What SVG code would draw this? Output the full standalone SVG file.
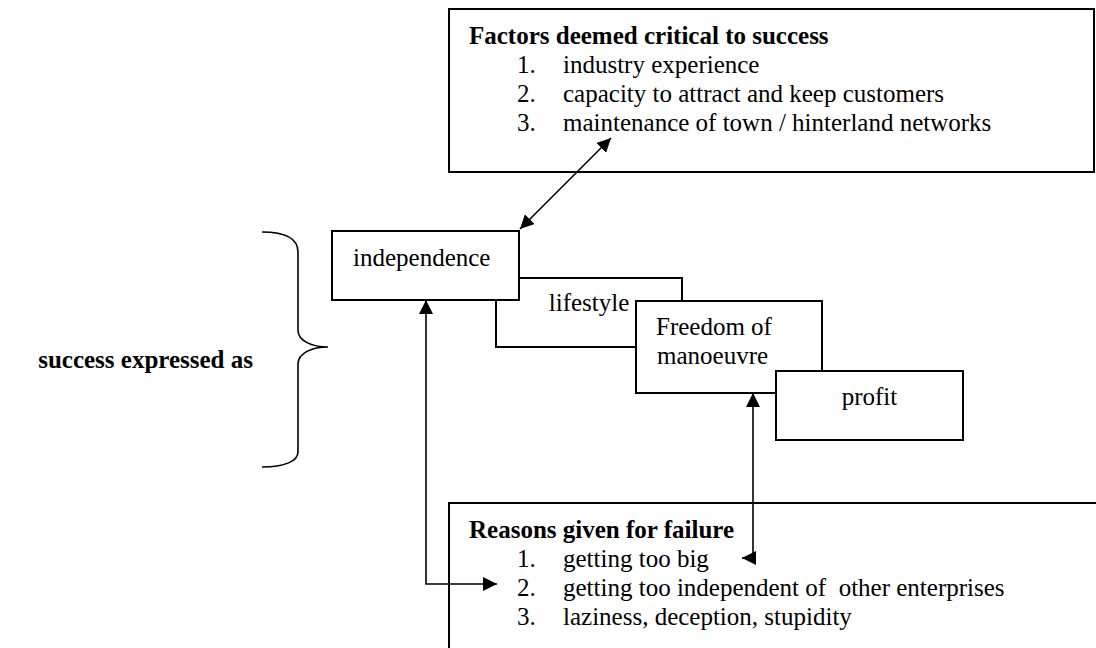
<svg xmlns="http://www.w3.org/2000/svg" width="1096" height="648" viewBox="0 0 1096 648">
<style>
.box{fill:#fff;stroke:#000;stroke-width:2}
.t{font-family:"Liberation Serif","Times New Roman",serif;font-size:25px;fill:#000}
.b{font-weight:bold}
.c{fill:none;stroke:#000;stroke-width:1.6}
</style>
<defs>
<marker id="ah" viewBox="0 0 14 14" refX="14" refY="7" markerWidth="14" markerHeight="14" markerUnits="userSpaceOnUse" orient="auto-start-reverse">
<path d="M0,0 L14,7 L0,14 z" fill="#000"/>
</marker>
</defs>
<rect width="1096" height="648" fill="#fff"/>
<g id="factors">
<rect class="box" x="449" y="9" width="645" height="163"/>
<text class="t b" x="469" y="44">Factors deemed critical to success</text>
<text class="t" x="517" y="73">1.</text><text class="t" x="563" y="73">industry experience</text>
<text class="t" x="517" y="102">2.</text><text class="t" x="563" y="102">capacity to attract and keep customers</text>
<text class="t" x="517" y="131">3.</text><text class="t" x="563" y="131">maintenance of town / hinterland networks</text>
</g>
<g id="reasons">
<rect class="box" x="449" y="503" width="700" height="200"/>
<text class="t b" x="469" y="538">Reasons given for failure</text>
<text class="t" x="517" y="567">1.</text><text class="t" x="563" y="567">getting too big</text>
<text class="t" x="517" y="596">2.</text><text class="t" x="563" y="596" xml:space="preserve">getting too independent of  other enterprises</text>
<text class="t" x="517" y="625">3.</text><text class="t" x="563" y="625">laziness, deception, stupidity</text>
</g>
<g id="success-label">
<path class="c" d="M262,232 C285,232 298,238 298,252 V330 C298,341 312,347 328,347 C312,347 298,353 298,364 V452 C298,461 285,467 262,467"/>
<text class="t b" x="253" y="368" text-anchor="end">success expressed as</text>
</g>
<g id="lifestyle">
<rect class="box" x="496" y="278" width="186" height="69"/>
<text class="t" x="589" y="311" text-anchor="middle">lifestyle</text>
</g>
<g id="independence">
<rect class="box" x="332" y="231" width="187" height="69"/>
<text class="t" x="353" y="266">independence</text>
</g>
<g id="freedom">
<rect class="box" x="636" y="301" width="186" height="92"/>
<text class="t" x="656" y="335">Freedom of</text>
<text class="t" x="657" y="364">manoeuvre</text>
</g>
<g id="profit">
<rect class="box" x="776" y="371" width="187" height="69"/>
<text class="t" x="869.5" y="405" text-anchor="middle">profit</text>
</g>
<g id="connectors">
<path class="c" d="M520,229 L611,138" marker-start="url(#ah)" marker-end="url(#ah)"/>
<path class="c" d="M426,300 V584 H497" marker-start="url(#ah)" marker-end="url(#ah)"/>
<path class="c" d="M753,393 V558 H742" marker-start="url(#ah)" marker-end="url(#ah)"/>
</g>
</svg>
